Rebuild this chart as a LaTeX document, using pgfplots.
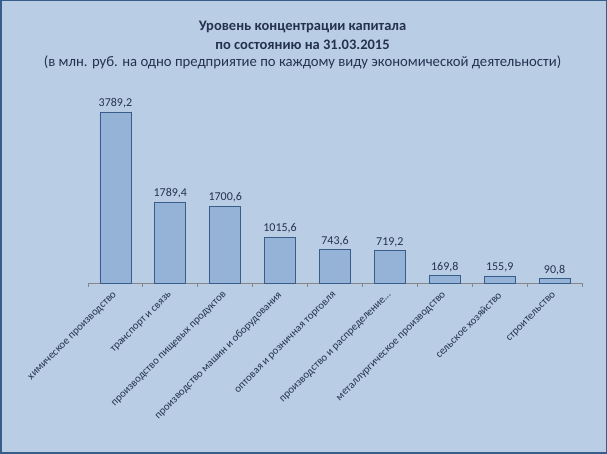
\documentclass[border=0pt]{standalone}
\usepackage{pgfplots}
\pgfplotsset{compat=1.18}
\usepackage{fontspec}
\setmainfont{Carlito}
\definecolor{bg}{RGB}{185,205,229}
\definecolor{barfill}{RGB}{149,179,215}
\definecolor{baredge}{RGB}{56,93,138}
\definecolor{frame}{RGB}{56,93,138}
\definecolor{txt}{RGB}{36,50,80}
\definecolor{axgray}{RGB}{134,134,134}
\begin{document}
\begin{tikzpicture}[x=1pt,y=1pt]
\fill[bg] (0,0) rectangle (607,454);
\draw[frame, line width=1.5pt] (0.75,0.75) rectangle (606.25,453.25);
\node[text=txt, font=\fontsize{14.5}{16}\selectfont\bfseries] at (302.5,427) {Уровень концентрации капитала};
\node[text=txt, font=\fontsize{14.5}{16}\selectfont\bfseries] at (302.5,409.5) {по состоянию на 31.03.2015};
\node[text=txt, font=\fontsize{14.7}{16}\selectfont] at (302.5,391.5) {(в млн. руб. на одно предприятие по каждому виду экономической деятельности)};
\begin{axis}[
  at={(88pt,171pt)}, anchor=south west,
  scale only axis, width=494pt, height=180.5pt,
  xmin=-0.5, xmax=8.5, ymin=0, ymax=4000,
  axis y line=none, axis x line*=bottom,
  x axis line style={axgray, line width=0.8pt},
  xtick={0,...,8},
  xticklabels={химическое производство, транспорт и связь, производство пищевых продуктов, производство машин и оборудования, оптовая и розничная торговля, производство и распределение\dots, металлургическое производство, сельское хозяйство, строительство},
  major x tick style={draw=none},
  minor xtick={-0.5,0.5,...,8.5},
  minor x tick style={axgray, line width=0.8pt},
  minor tick length=4pt,
  tick align=outside,
  xticklabel style={xshift=2.5pt, yshift=-4pt, rotate=45, anchor=east, font=\fontsize{10.8}{12}\selectfont, text=txt},
  ybar, bar width=31pt,
  nodes near coords,
  nodes near coords style={font=\fontsize{12}{13}\selectfont, text=txt},
  /pgf/number format/.cd, use comma, set thousands separator={}, fixed, fixed zerofill, precision=1, assume math mode=true,
  /pgfplots/.cd,
  clip=false,
]
\addplot[fill=barfill, draw=baredge, line width=0.8pt] coordinates {
(0,3789.2) (1,1789.4) (2,1700.6) (3,1015.6) (4,743.6) (5,719.2) (6,169.8) (7,155.9) (8,90.8)};
\end{axis}
\end{tikzpicture}
\end{document}
